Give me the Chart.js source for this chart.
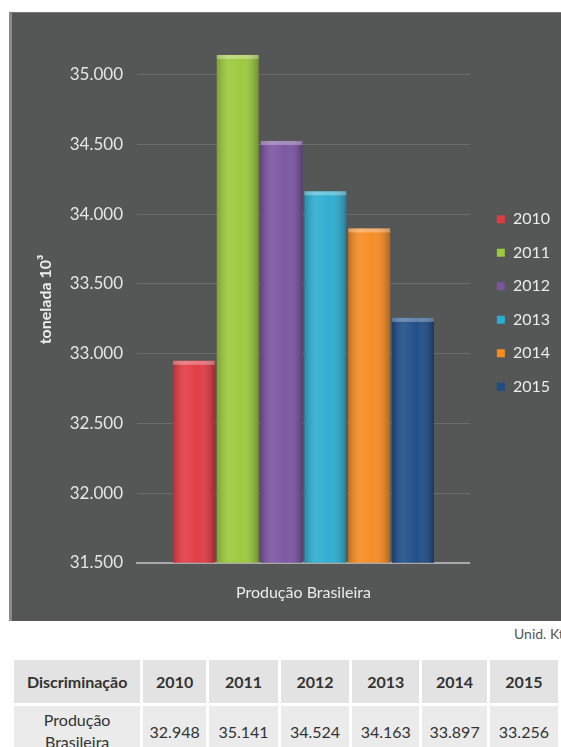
<!DOCTYPE html>
<html lang="pt-BR">
<head>
<meta charset="utf-8" />
<title>Produção Brasileira 2010-2015</title>
<script src="https://cdn.jsdelivr.net/npm/chart.js@4/dist/chart.umd.min.js"></script>
<style>
  html, body { margin: 0; padding: 0; background: #fff; overflow: hidden; }
  body { width: 561px; height: 747px; position: relative; font-family: Lato, "Open Sans", sans-serif; }
  #panel {
    position: absolute; left: 9px; top: 12px; width: 560px; height: 609px;
    background: #555756; border-left: 3px solid #8a8b8a; border-top: 1px solid #767877;
    box-sizing: border-box;
  }
  #chartBox { position: absolute; left: 9px; top: 12px; width: 552px; height: 610px; }
  #unit { position: absolute; left: 514px; top: 625px; font-size: 14px; color: #555; white-space: nowrap; }
  #tbl {
    position: absolute; left: 11px; top: 657px;
    border-collapse: separate; border-spacing: 3px; table-layout: fixed;
    color: #333; font-size: 16px;
  }
  #tbl td { padding: 0; text-align: center; }
  #tbl thead td { background: #e3e3e3; height: 43px; font-weight: bold; }
  #tbl tbody td { background: #ebebeb; height: 50px; }
  #tbl tbody td.name { line-height: 22px; }
</style>
</head>
<body>
<div id="panel"></div>
<div id="chartBox"><canvas id="prod"></canvas></div>

<div id="unit">Unid. Kt</div>
<table id="tbl">
  <colgroup>
    <col style="width:129px"><col style="width:64px"><col style="width:71px"><col style="width:70px">
    <col style="width:69px"><col style="width:66px"><col style="width:70px">
  </colgroup>
  <thead><tr id="head"><td>Discriminação</td></tr></thead>
  <tbody><tr id="row"><td class="name">Produção<br>Brasileira</td></tr></tbody>
</table>

<script>
// anos e produção (mil toneladas)
const years = ['2010', '2011', '2012', '2013', '2014', '2015'];
const production = [32948, 35141, 34524, 34163, 33897, 33256];
const category = ['Produção Brasileira'];
const yTicks = [31500, 32000, 32500, 33000, 33500, 34000, 34500, 35000];

const palette = ['#e13a42', '#9bc93c', '#7b54a2', '#2badd1', '#f68b22', '#1e4c87'];

// 35000 -> "35.000"
const fmt = v => String(v).replace(/\B(?=(\d{3})+(?!\d))/g, '.');

// tabela abaixo do gráfico
const head = document.getElementById('head');
const row = document.getElementById('row');
years.forEach((y, i) => {
  head.insertAdjacentHTML('beforeend', `<td>${y}</td>`);
  row.insertAdjacentHTML('beforeend', `<td>${fmt(production[i])}</td>`);
});

// brilho de cada barra (efeito 3D do Excel)
const barShine = {
  id: 'barShine',
  afterDatasetsDraw(chart) {
    const ctx = chart.ctx;
    const area = chart.chartArea;
    ctx.save();
    ctx.beginPath();
    ctx.rect(area.left, area.top, area.right - area.left, area.bottom - area.top);
    ctx.clip();
    chart.data.datasets.forEach((ds, i) => {
      chart.getDatasetMeta(i).data.forEach(bar => {
        const p = bar.getProps(['x', 'y', 'base', 'width'], true);
        const left = p.x - p.width / 2;
        const bottom = Math.min(p.base, area.bottom);
        const g = ctx.createLinearGradient(left, 0, left + p.width, 0);
        g.addColorStop(0, 'rgba(0,0,0,0.20)');
        g.addColorStop(0.28, 'rgba(255,255,255,0.10)');
        g.addColorStop(0.6, 'rgba(255,255,255,0.02)');
        g.addColorStop(1, 'rgba(0,0,0,0.28)');
        ctx.fillStyle = g;
        ctx.fillRect(left, p.y, p.width, bottom - p.y);
        ctx.fillStyle = 'rgba(255,255,255,0.30)';
        ctx.fillRect(left, p.y, p.width, 4);
      });
    });
    ctx.restore();
  }
};

Chart.defaults.font.family = 'Lato, "Open Sans", sans-serif';

new Chart(document.getElementById('prod'), {
  type: 'bar',
  data: {
    labels: category,
    datasets: years.map((y, i) => ({
      label: y,
      data: [production[i]],
      backgroundColor: palette[i],
      borderWidth: 0,
      categoryPercentage: 0.79,
      barPercentage: 0.955
    }))
  },
  options: {
    responsive: true,
    maintainAspectRatio: false,
    animation: false,
    layout: { padding: { top: 6, left: 27, right: 1, bottom: 0 } },
    plugins: {
      tooltip: { enabled: false },
      legend: {
        position: 'right',
        fullSize: false,
        title: { display: true, text: '', font: { size: 7, lineHeight: 1 }, padding: 0 },
        labels: {
          boxWidth: 8,
          boxHeight: 8,
          padding: 17.5,
          color: '#ececec',
          font: { size: 16 }
        }
      }
    },
    scales: {
      x: {
        grid: { display: false, drawTicks: false },
        border: { color: '#a9aaa9', width: 2 },
        ticks: { color: '#ececec', font: { size: 16 }, padding: 20 }
      },
      y: {
        min: 31500,
        max: 35275,
        afterFit: s => { s.width = 101; },
        afterBuildTicks: s => { s.ticks = yTicks.map(v => ({ value: v })); },
        grid: { color: '#6b6d6c', drawTicks: false },
        border: { display: false },
        ticks: { color: '#e6e6e6', font: { size: 17 }, padding: 14, callback: v => fmt(v) },
        title: {
          display: true,
          text: 'tonelada 10³',
          color: '#eeeeee',
          font: { size: 16, weight: 'bold' },
          padding: 0
        }
      },
      // espaço entre a área do gráfico e a legenda
      gap: {
        position: 'right',
        display: true,
        grid: { display: false, drawTicks: false },
        border: { display: false },
        ticks: { display: false },
        afterFit: s => { s.width = 9.5; }
      }
    }
  },
  plugins: [barShine]
});
</script>
</body>
</html>
